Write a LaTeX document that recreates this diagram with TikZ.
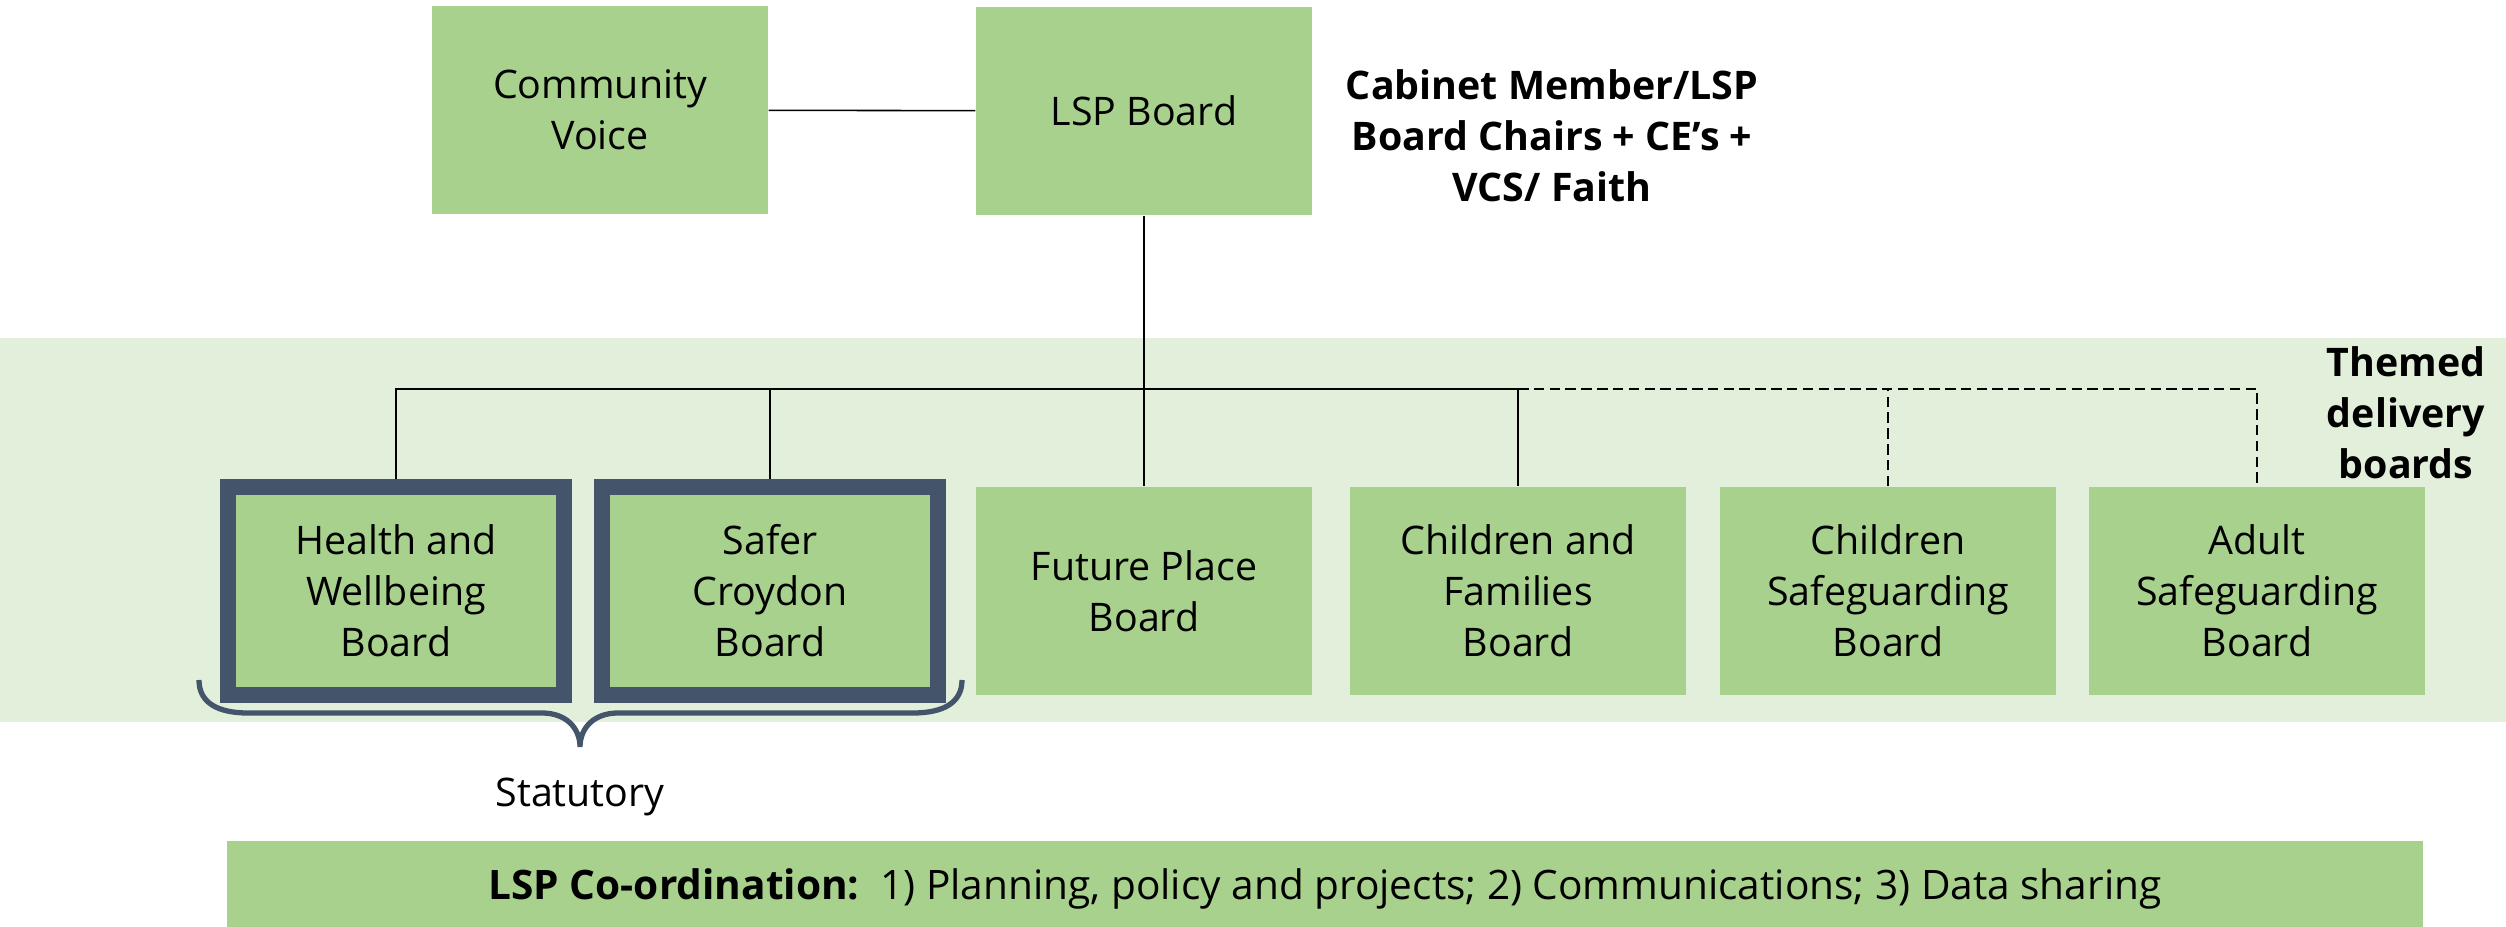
\documentclass[tikz,border=0pt]{standalone}
\usepackage{fontspec}
\setmainfont{Open Sans}
\usepackage{tikz}
\usetikzlibrary{positioning}

\definecolor{boxgreen}{HTML}{A9D18E}
\definecolor{bandgreen}{HTML}{E2EFDA}
\definecolor{framegrey}{HTML}{44546A}

\begin{document}
\begin{tikzpicture}[x=0.1mm, y=-0.1mm,
  boardbox/.style={fill=boxgreen, minimum width=33.6mm, minimum height=20.8mm,
    inner sep=0pt, align=center, font=\fontsize{11.2}{14.5}\selectfont},
  statbox/.style={boardbox, draw=framegrey, line width=4.5pt},
  dashline/.style={dash pattern=on 3pt off 1.5pt, line width=0.45pt},
  link/.style={line width=0.45pt}]
\useasboundingbox (0,0) rectangle (2506,927);

% themed delivery band
\fill[bandgreen] (0,338) rectangle (2506,722);

\node[boardbox] (comm) at (600,110) {Community\\Voice};
\node[boardbox] (lsp) at (1144,111) {LSP Board};
\node[align=center, font=\bfseries\fontsize{11.2}{14.5}\selectfont] (cabinet) at (1552,136)
  {Cabinet Member/LSP\\Board Chairs + CE’s +\\VCS/ Faith};
\node[align=center, font=\bfseries\fontsize{11.2}{14.5}\selectfont] (themed) at (2406,413)
  {Themed\\delivery\\boards};

\node[statbox] (hwb) at (396,591) {Health and\\Wellbeing\\Board};
\node[statbox] (scb) at (770,591) {Safer\\Croydon\\Board};
\node[boardbox] (fpb) at (1144,591) {Future Place\\Board};
\node[boardbox] (cfb) at (1518,591) {Children and\\Families\\Board};
\node[boardbox] (csb) at (1888,591) {Children\\Safeguarding\\Board};
\node[boardbox] (asb) at (2257,591) {Adult\\Safeguarding\\Board};

\coordinate (bus) at (0,389);

\draw[link] (comm) -- (lsp);
\draw[link] (lsp) -- (fpb);
\draw[link] (hwb.north) -- (hwb.north |- bus) -- (cfb.north |- bus) -- (cfb.north);
\draw[link] (scb.north) -- (scb.north |- bus);
\draw[dashline] (cfb.north |- bus) -- (asb.north |- bus) -- (asb.north);
\draw[dashline] (csb.north) -- (csb.north |- bus);

% brace under the statutory boards
\draw[framegrey, line width=1.5pt] (199,680) .. controls (199,703) and (218,713) .. (248,713)
  -- (542,713) .. controls (566,713) and (580,728) .. (580,747)
  .. controls (580,728) and (594,713) .. (618,713)
  -- (913,713) .. controls (943,713) and (962,703) .. (962,680);
\node[font=\fontsize{11.2}{14.5}\selectfont] (statutory) at (580,797) {Statutory};

\node[boardbox, minimum width=219.6mm, minimum height=8.6mm, text height=3.4mm, text depth=0.2mm,
  font=\fontsize{11.55}{14.5}\selectfont] (coord) at (1325,884)
  {\textbf{LSP Co-ordination:}\ \ 1) Planning, policy and projects; 2) Communications; 3) Data sharing};
\end{tikzpicture}
\end{document}
